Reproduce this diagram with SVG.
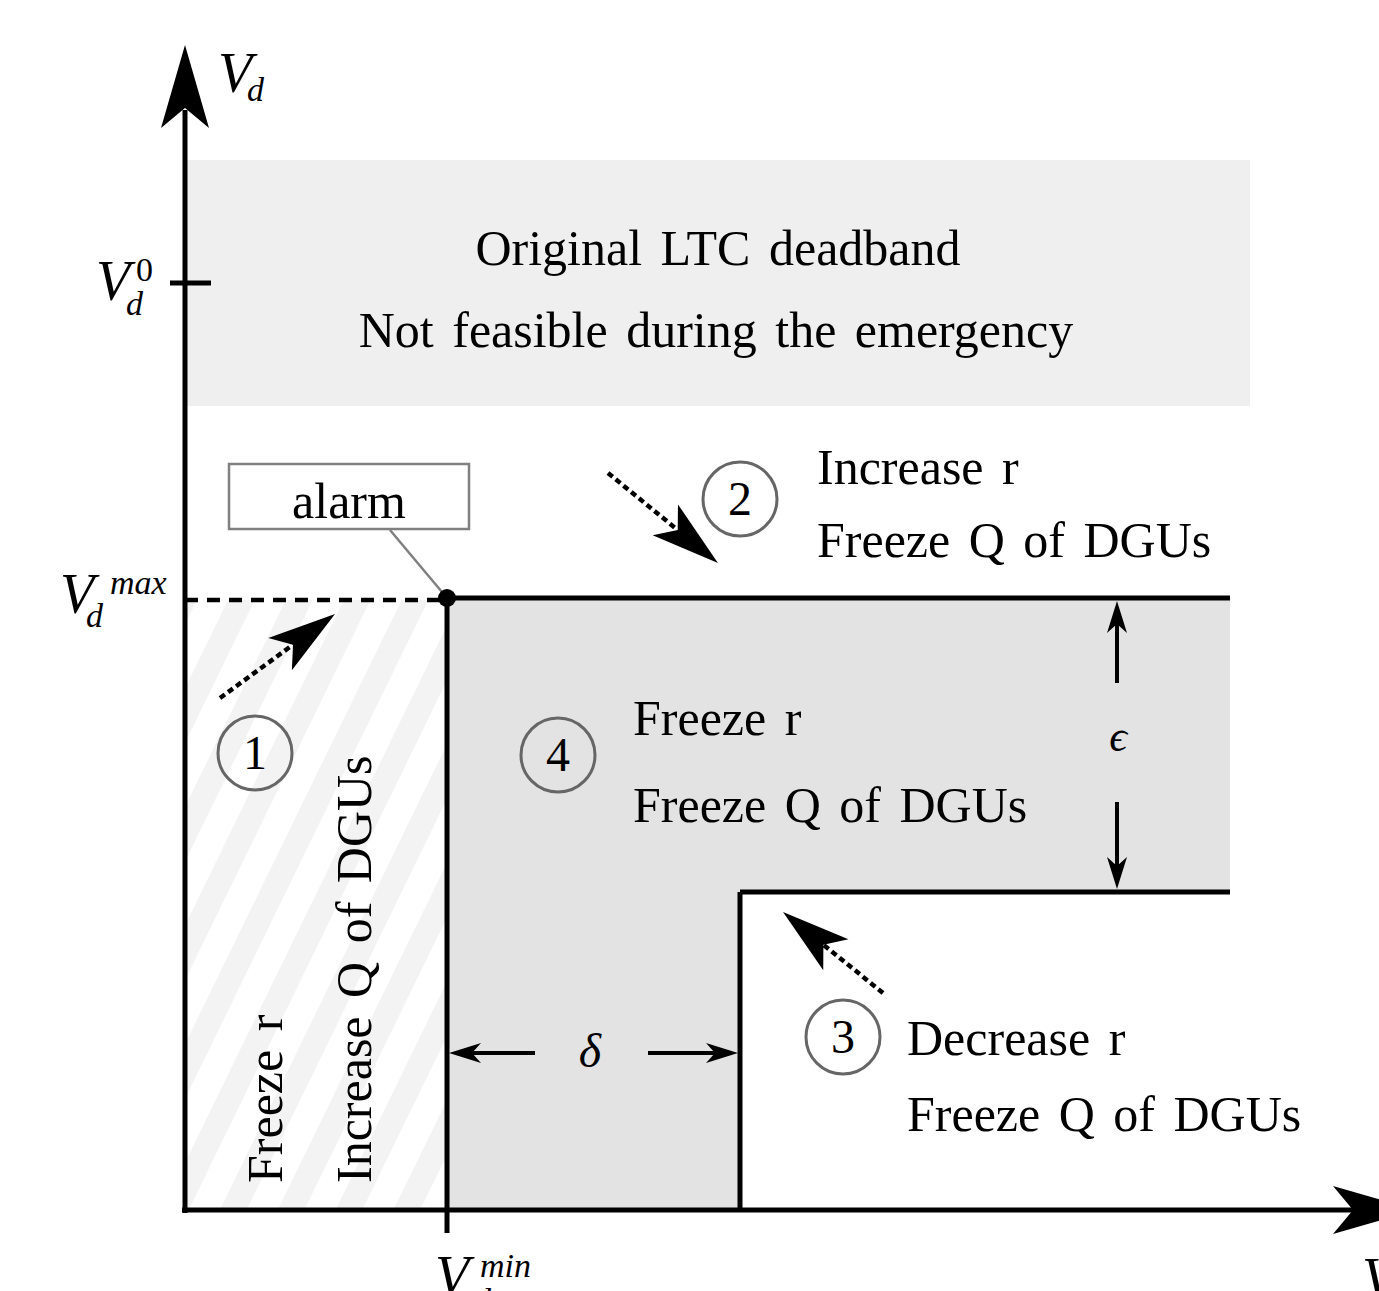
<svg xmlns="http://www.w3.org/2000/svg" width="1379" height="1291" viewBox="0 0 1379 1291">
<style>
.t{font-family:"Liberation Serif","Times New Roman",serif;font-size:50px;fill:#000;word-spacing:6px}
.m{font-family:"Liberation Serif","Times New Roman",serif;font-style:italic;fill:#000}
.n{font-family:"Liberation Serif","Times New Roman",serif;font-size:48px;fill:#000;text-anchor:middle}
.ax{stroke:#000;stroke-width:5;fill:none}
.bd{stroke:#000;stroke-width:5;fill:none}
.circ{fill:none;stroke:#666;stroke-width:3}
.dot{stroke:#000;stroke-width:4.5;stroke-dasharray:6 4;fill:none}
.dim{stroke:#000;stroke-width:4;fill:none}
</style>
<defs>
<pattern id="hatch" patternUnits="userSpaceOnUse" width="52" height="20" patternTransform="rotate(26)">
<rect x="0" y="0" width="52" height="20" fill="#ffffff"/>
<rect x="0" y="0" width="24" height="20" fill="#f3f3f3"/>
</pattern>
<marker id="big" viewBox="-70 -22 72 44" markerWidth="72" markerHeight="44" refX="-52" refY="0" orient="auto" markerUnits="userSpaceOnUse">
<path d="M0,0 L-68,-20 L-52,0 L-68,20 Z" fill="#000"/>
</marker>
<marker id="sm" viewBox="-34 -12 36 24" markerWidth="36" markerHeight="24" refX="-23" refY="0" orient="auto" markerUnits="userSpaceOnUse">
<path d="M0,0 L-32,-10 L-23,0 L-32,10 Z" fill="#000"/>
</marker>
</defs>

<g id="regions">
<rect x="185" y="160" width="1065" height="246" fill="#efefef"/>
<rect x="185" y="600" width="262" height="610" fill="url(#hatch)"/>
<path d="M447,598 L1230,598 L1230,892 L740,892 L740,1210 L447,1210 Z" fill="#e3e3e3"/>
</g>

<g id="deadband-text">
<text class="t" x="718" y="265" text-anchor="middle">Original LTC deadband</text>
<text class="t" x="716" y="347" text-anchor="middle">Not feasible during the emergency</text>
</g>

<g id="boundaries">
<line x1="185" y1="600" x2="447" y2="600" stroke="#000" stroke-width="4.5" stroke-dasharray="13 9"/>
<line class="bd" x1="447" y1="598" x2="1230" y2="598"/>
<line class="bd" x1="447" y1="598" x2="447" y2="1233"/>
<line class="bd" x1="740" y1="892" x2="1230" y2="892"/>
<line class="bd" x1="740" y1="892" x2="740" y2="1210"/>
</g>

<g id="axes">
<line class="ax" x1="185" y1="1213" x2="185" y2="110"/>
<path d="M185,45 L209,128 L185,108 L161,128 Z" fill="#000"/>
<line class="ax" x1="182" y1="1210" x2="1355" y2="1210"/>
<path d="M1416,1210 L1333,1186 L1353,1210 L1333,1234 Z" fill="#000"/>
<line class="ax" x1="170" y1="283" x2="211" y2="283"/>
</g>

<g id="axis-labels">
<text class="m" x="218" y="92" font-size="56">V</text>
<text class="m" x="247" y="101" font-size="34">d</text>
<text class="m" x="96" y="300" font-size="56">V</text>
<text x="136" y="281" font-size="34" font-family="Liberation Serif, serif">0</text>
<text class="m" x="126" y="315" font-size="34">d</text>
<text class="m" x="60" y="613" font-size="56">V</text>
<text class="m" x="110" y="594" font-size="34">max</text>
<text class="m" x="86" y="627" font-size="34">d</text>
<text class="m" x="435" y="1295" font-size="56">V</text>
<text class="m" x="480" y="1277" font-size="34">min</text>
<text class="m" x="474" y="1312" font-size="34">d</text>
<text class="m" x="1362" y="1297" font-size="56">V</text>
</g>

<g id="alarm">
<line x1="390" y1="530" x2="447" y2="598" stroke="#808080" stroke-width="2.5"/>
<rect x="229" y="464" width="240" height="65" fill="#fff" stroke="#808080" stroke-width="2.5"/>
<text class="t" x="349" y="518" text-anchor="middle" font-size="46">alarm</text>
<circle cx="447" cy="598" r="9" fill="#000"/>
</g>

<g id="connectors">
<line class="dot" x1="220" y1="698" x2="293" y2="644.7" marker-end="url(#big)"/>
<line class="dot" x1="608" y1="473" x2="677.7" y2="530" marker-end="url(#big)"/>
<line class="dot" x1="883" y1="993" x2="823.4" y2="944.7" marker-end="url(#big)"/>
<line class="dim" x1="1117" y1="683" x2="1117" y2="624" marker-end="url(#sm)"/>
<line class="dim" x1="1117" y1="802" x2="1117" y2="866" marker-end="url(#sm)"/>
<line class="dim" x1="535" y1="1053" x2="472" y2="1053" marker-end="url(#sm)"/>
<line class="dim" x1="648" y1="1053" x2="715" y2="1053" marker-end="url(#sm)"/>
<text class="m" x="1118" y="751" font-size="44" text-anchor="middle">ϵ</text>
<text class="m" x="590" y="1067" font-size="48" text-anchor="middle">δ</text>
</g>

<g id="state1">
<circle class="circ" cx="255" cy="753" r="37"/>
<text class="n" x="255" y="769">1</text>
<text class="t" transform="translate(282,1183) rotate(-90)">Freeze r</text>
<text class="t" transform="translate(371,1183) rotate(-90)">Increase Q of DGUs</text>
</g>

<g id="state2">
<circle class="circ" cx="740" cy="499" r="37"/>
<text class="n" x="740" y="515">2</text>
<text class="t" x="817" y="484">Increase r</text>
<text class="t" x="817" y="557">Freeze Q of DGUs</text>
</g>

<g id="state3">
<circle class="circ" cx="843" cy="1037" r="37"/>
<text class="n" x="843" y="1053">3</text>
<text class="t" x="907" y="1055">Decrease r</text>
<text class="t" x="907" y="1131">Freeze Q of DGUs</text>
</g>

<g id="state4">
<circle class="circ" cx="558" cy="755" r="37"/>
<text class="n" x="558" y="771">4</text>
<text class="t" x="633" y="735">Freeze r</text>
<text class="t" x="633" y="822">Freeze Q of DGUs</text>
</g>
</svg>
